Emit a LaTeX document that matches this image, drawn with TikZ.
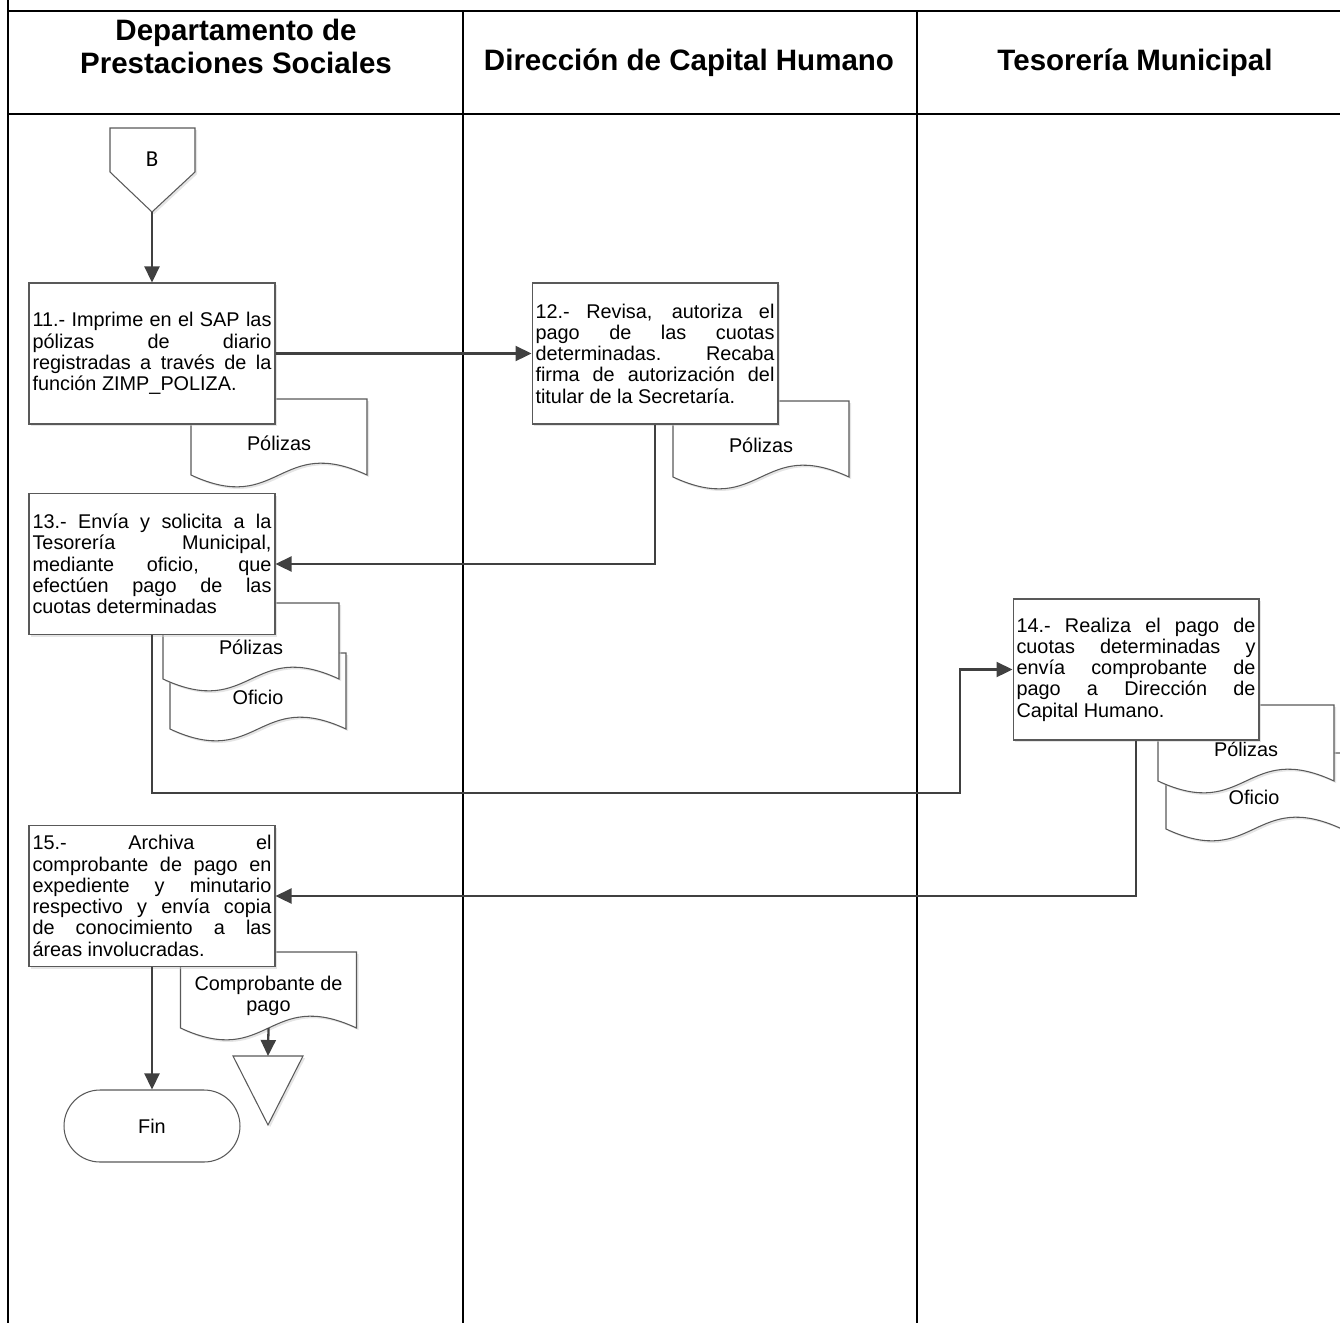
\documentclass[tikz,border=0pt]{standalone}
\usepackage{fontspec}
\setmainfont{Liberation Sans}
\newfontfamily\calibrifont{Carlito}
\usepackage{tikz}
\usetikzlibrary{arrows.meta, calc, backgrounds, shadows}
\usepackage{xcolor}

\newcommand{\stepfont}{\fontsize{11.3}{12.1}\selectfont\tolerance=10000}
% document outline drawn behind its text node
\newcommand{\docpath}[1]{%
  \begin{pgfonlayer}{background}
    \draw[docline] ($(#1.center)+(-88,32)$) -- ++(0,-76) -- ++(176,0) -- ++(0,76)
      .. controls +(-88,-41) and +(88,41) .. ++(-176,0) -- cycle;
  \end{pgfonlayer}
  \coordinate (#1-foot) at ($(#1.center)+(0,32)$);}

\tikzset{
  lane/.style={black, line width=1.4pt},
  lanehead/.style={font=\bfseries\fontsize{16.8}{18.7}\selectfont, align=center},
  softshadow/.style={drop shadow={shadow xshift=1.2pt, shadow yshift=-1.2pt, fill=black!20, opacity=0.5}},
  stepbox/.style={draw=black!65, line width=0.6pt, fill=white, softshadow,
    text width=4.78cm, inner xsep=0.07cm, minimum height=2.82cm, align=justify, font=\stepfont},
  docnode/.style={inner sep=0pt, align=center, font=\stepfont},
  docline/.style={draw=black!65, line width=0.6pt, fill=white, softshadow},
  terminal/.style={draw=black!65, line width=0.6pt, fill=white, rounded corners=0.72cm,
    minimum width=3.52cm, minimum height=1.44cm, font=\stepfont},
  flow/.style={draw=black!75, line width=1.3pt, -{Triangle[length=0.32cm, width=0.3cm]}}
}

\begin{document}
\begin{tikzpicture}[x=0.02cm, y=-0.02cm]
  \useasboundingbox (0,0) rectangle (1340,1323);
  % lanes
  \draw[lane] (8,0) -- (8,1323);
  \draw[lane] (8,11) -- (1340,11);
  \draw[lane] (8,114) -- (1340,114);
  \draw[lane] (463,11) -- (463,1323);
  \draw[lane] (917,11) -- (917,1323);
  \node[lanehead] (hdps) at (236,46.5) {Departamento de\\Prestaciones Sociales};
  \node[lanehead] (hdch) at (689,63) {Dirección de Capital Humano};
  \node[lanehead] (htm) at (1135,63) {Tesorería Municipal};

  % connector B
  \draw[docline] (110,128) -- (195,128) -- (195,172) -- (152,212) -- (110,172) -- cycle;
  \node[font=\calibrifont\fontsize{13}{15}\selectfont] (conB) at (152,159) {B};
  \coordinate (Btip) at (152,212);

  % documents
  \node[docnode] (pol11) at (279,443) {Pólizas};
  \docpath{pol11}
  \node[docnode] (pol12) at (761,445) {Pólizas};
  \docpath{pol12}
  \node[docnode] (ofi13) at (258,697) {Oficio};
  \docpath{ofi13}
  \node[docnode] (pol13) at (251,647) {Pólizas};
  \docpath{pol13}
  \node[docnode] (ofi14) at (1254,797) {Oficio};
  \docpath{ofi14}
  \node[docnode] (pol14) at (1246,749) {Pólizas};
  \docpath{pol14}
  \node[docnode] (cpago) at (268.5,996) {Comprobante de\\pago};
  \docpath{cpago}

  % steps
  \node[stepbox] (s11) at (152,353.5) {11.- Imprime en el SAP las\linebreak
    pólizas de diario\linebreak registradas a través de la\linebreak función ZIMP\_POLIZA.};
  \node[stepbox] (s12) at (655,353.5) {12.- Revisa, autoriza el\linebreak pago de las cuotas\linebreak
    determinadas. Recaba\linebreak firma de autorización del\linebreak titular de la Secretaría.};
  \node[stepbox] (s13) at (152,564) {13.- Envía y solicita a la\linebreak Tesorería Municipal,\linebreak
    mediante oficio, que\linebreak efectúen pago de las\linebreak cuotas determinadas};
  \node[stepbox] (s14) at (1136,669.5) {14.- Realiza el pago de\linebreak cuotas determinadas y\linebreak
    envía comprobante de\linebreak pago a Dirección de\linebreak Capital Humano.};
  \node[stepbox] (s15) at (152,896) {15.- Archiva el\linebreak comprobante de pago en\linebreak
    expediente y minutario\linebreak respectivo y envía copia\linebreak de conocimiento a las\linebreak
    áreas involucradas.};
  \node[terminal] (fin) at (152,1126) {Fin};

  % archive
  \coordinate (arch) at (268,1056);
  \draw[docline] (arch) ++(-35,0) -- ++(70,0) -- ++(-35,69) -- cycle;

  % flow
  \coordinate (elbow) at (960,793);
  \draw[flow] (Btip) -- (s11.north);
  \draw[flow] (s11.east) -- (s12.west);
  \draw[flow] (s12.south) |- (s13.east);
  \draw[flow] (s13.south) |- (elbow) |- (s14.west);
  \draw[flow] (s14.south) |- (s15.east);
  \draw[flow] (s15.south) -- (fin.north);
  \draw[flow] (cpago-foot) -- (arch);
\end{tikzpicture}
\end{document}
